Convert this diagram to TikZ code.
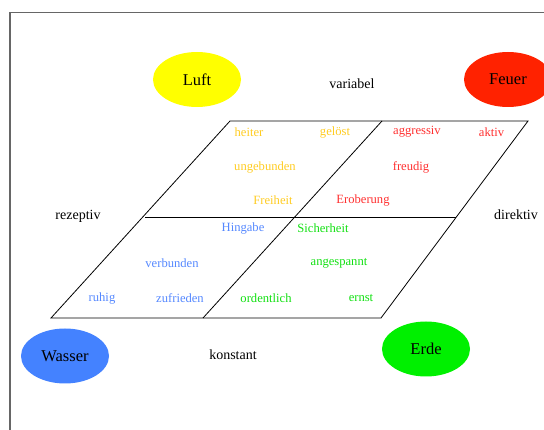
\documentclass[tikz,border=0pt]{standalone}
\usepackage{fontspec}
\setmainfont{Liberation Serif}
\definecolor{cyellow}{HTML}{FFFF00}
\definecolor{cred}{HTML}{FF2200}
\definecolor{cblue}{HTML}{4482FF}
\definecolor{cgreen}{HTML}{00F000}
\definecolor{tyellow}{HTML}{FFCC22}
\definecolor{tred}{HTML}{FF3030}
\definecolor{tblue}{HTML}{5588FF}
\definecolor{tgreen}{HTML}{11E011}
\definecolor{framegray}{HTML}{666666}
\tikzset{
  element/.style={ellipse, minimum width=88pt, minimum height=55pt, inner sep=0pt, font=\fontsize{16.5}{18}\selectfont},
  axislabel/.style={inner sep=0pt, font=\fontsize{14}{16}\selectfont},
  word/.style={inner sep=0pt, font=\fontsize{12.6}{14}\selectfont},
  gridline/.style={draw=black, line width=0.8pt},
}
\usetikzlibrary{shapes.geometric}
\begin{document}
\begin{tikzpicture}[x=1pt,y=-1pt]
\useasboundingbox (0,0) rectangle (544,430);
% frame
\draw[framegray, line width=1.2pt] (10,430) -- (10,12.5) -- (544,12.5);
% corners
\coordinate (tl) at (230,121);
\coordinate (tr) at (528,121);
\coordinate (bl) at (51,318);
\coordinate (br) at (381,318);
\coordinate (ml) at (145,217);
\coordinate (mr) at (456,217);
\coordinate (tm) at (382,121);
\coordinate (bm) at (203,318);
\draw[gridline] (tl) -- (tr) -- (br) -- (bl) -- cycle;
\draw[gridline] (ml) -- (mr);
\draw[gridline] (tm) -- (bm);
% elements
\node[element, fill=cyellow] (luft) at (197,79.5) {Luft};
\node[element, fill=cred] (feuer) at (508,79.5) {Feuer};
\node[element, fill=cblue] (wasser) at (65,356) {Wasser};
\node[element, fill=cgreen] (erde) at (426,349) {Erde};
% axis labels
\node[axislabel] (variabel) at (352,84) {variabel};
\node[axislabel] (konstant) at (233,355) {konstant};
\node[axislabel] (rezeptiv) at (78,216) {rezeptiv};
\node[axislabel] (direktiv) at (516,215) {direktiv};
% yellow words
\node[word, text=tyellow] (heiter) at (249,132) {heiter};
\node[word, text=tyellow] (geloest) at (335,132) {gelöst};
\node[word, text=tyellow] (ungebunden) at (265,167) {ungebunden};
\node[word, text=tyellow] (freiheit) at (273,200) {Freiheit};
% red words
\node[word, text=tred] (aggressiv) at (417,132) {aggressiv};
\node[word, text=tred] (aktiv) at (491.5,132) {aktiv};
\node[word, text=tred] (freudig) at (411,167) {freudig};
\node[word, text=tred] (eroberung) at (363,200) {Eroberung};
% blue words
\node[word, text=tblue] (hingabe) at (243,228) {Hingabe};
\node[word, text=tblue] (verbunden) at (172,263) {verbunden};
\node[word, text=tblue] (ruhig) at (102,298) {ruhig};
\node[word, text=tblue] (zufrieden) at (180,298) {zufrieden};
% green words
\node[word, text=tgreen] (sicherheit) at (323,228) {Sicherheit};
\node[word, text=tgreen] (angespannt) at (339,263) {angespannt};
\node[word, text=tgreen] (ordentlich) at (266,298) {ordentlich};
\node[word, text=tgreen] (ernst) at (361,298) {ernst};
\end{tikzpicture}
\end{document}
